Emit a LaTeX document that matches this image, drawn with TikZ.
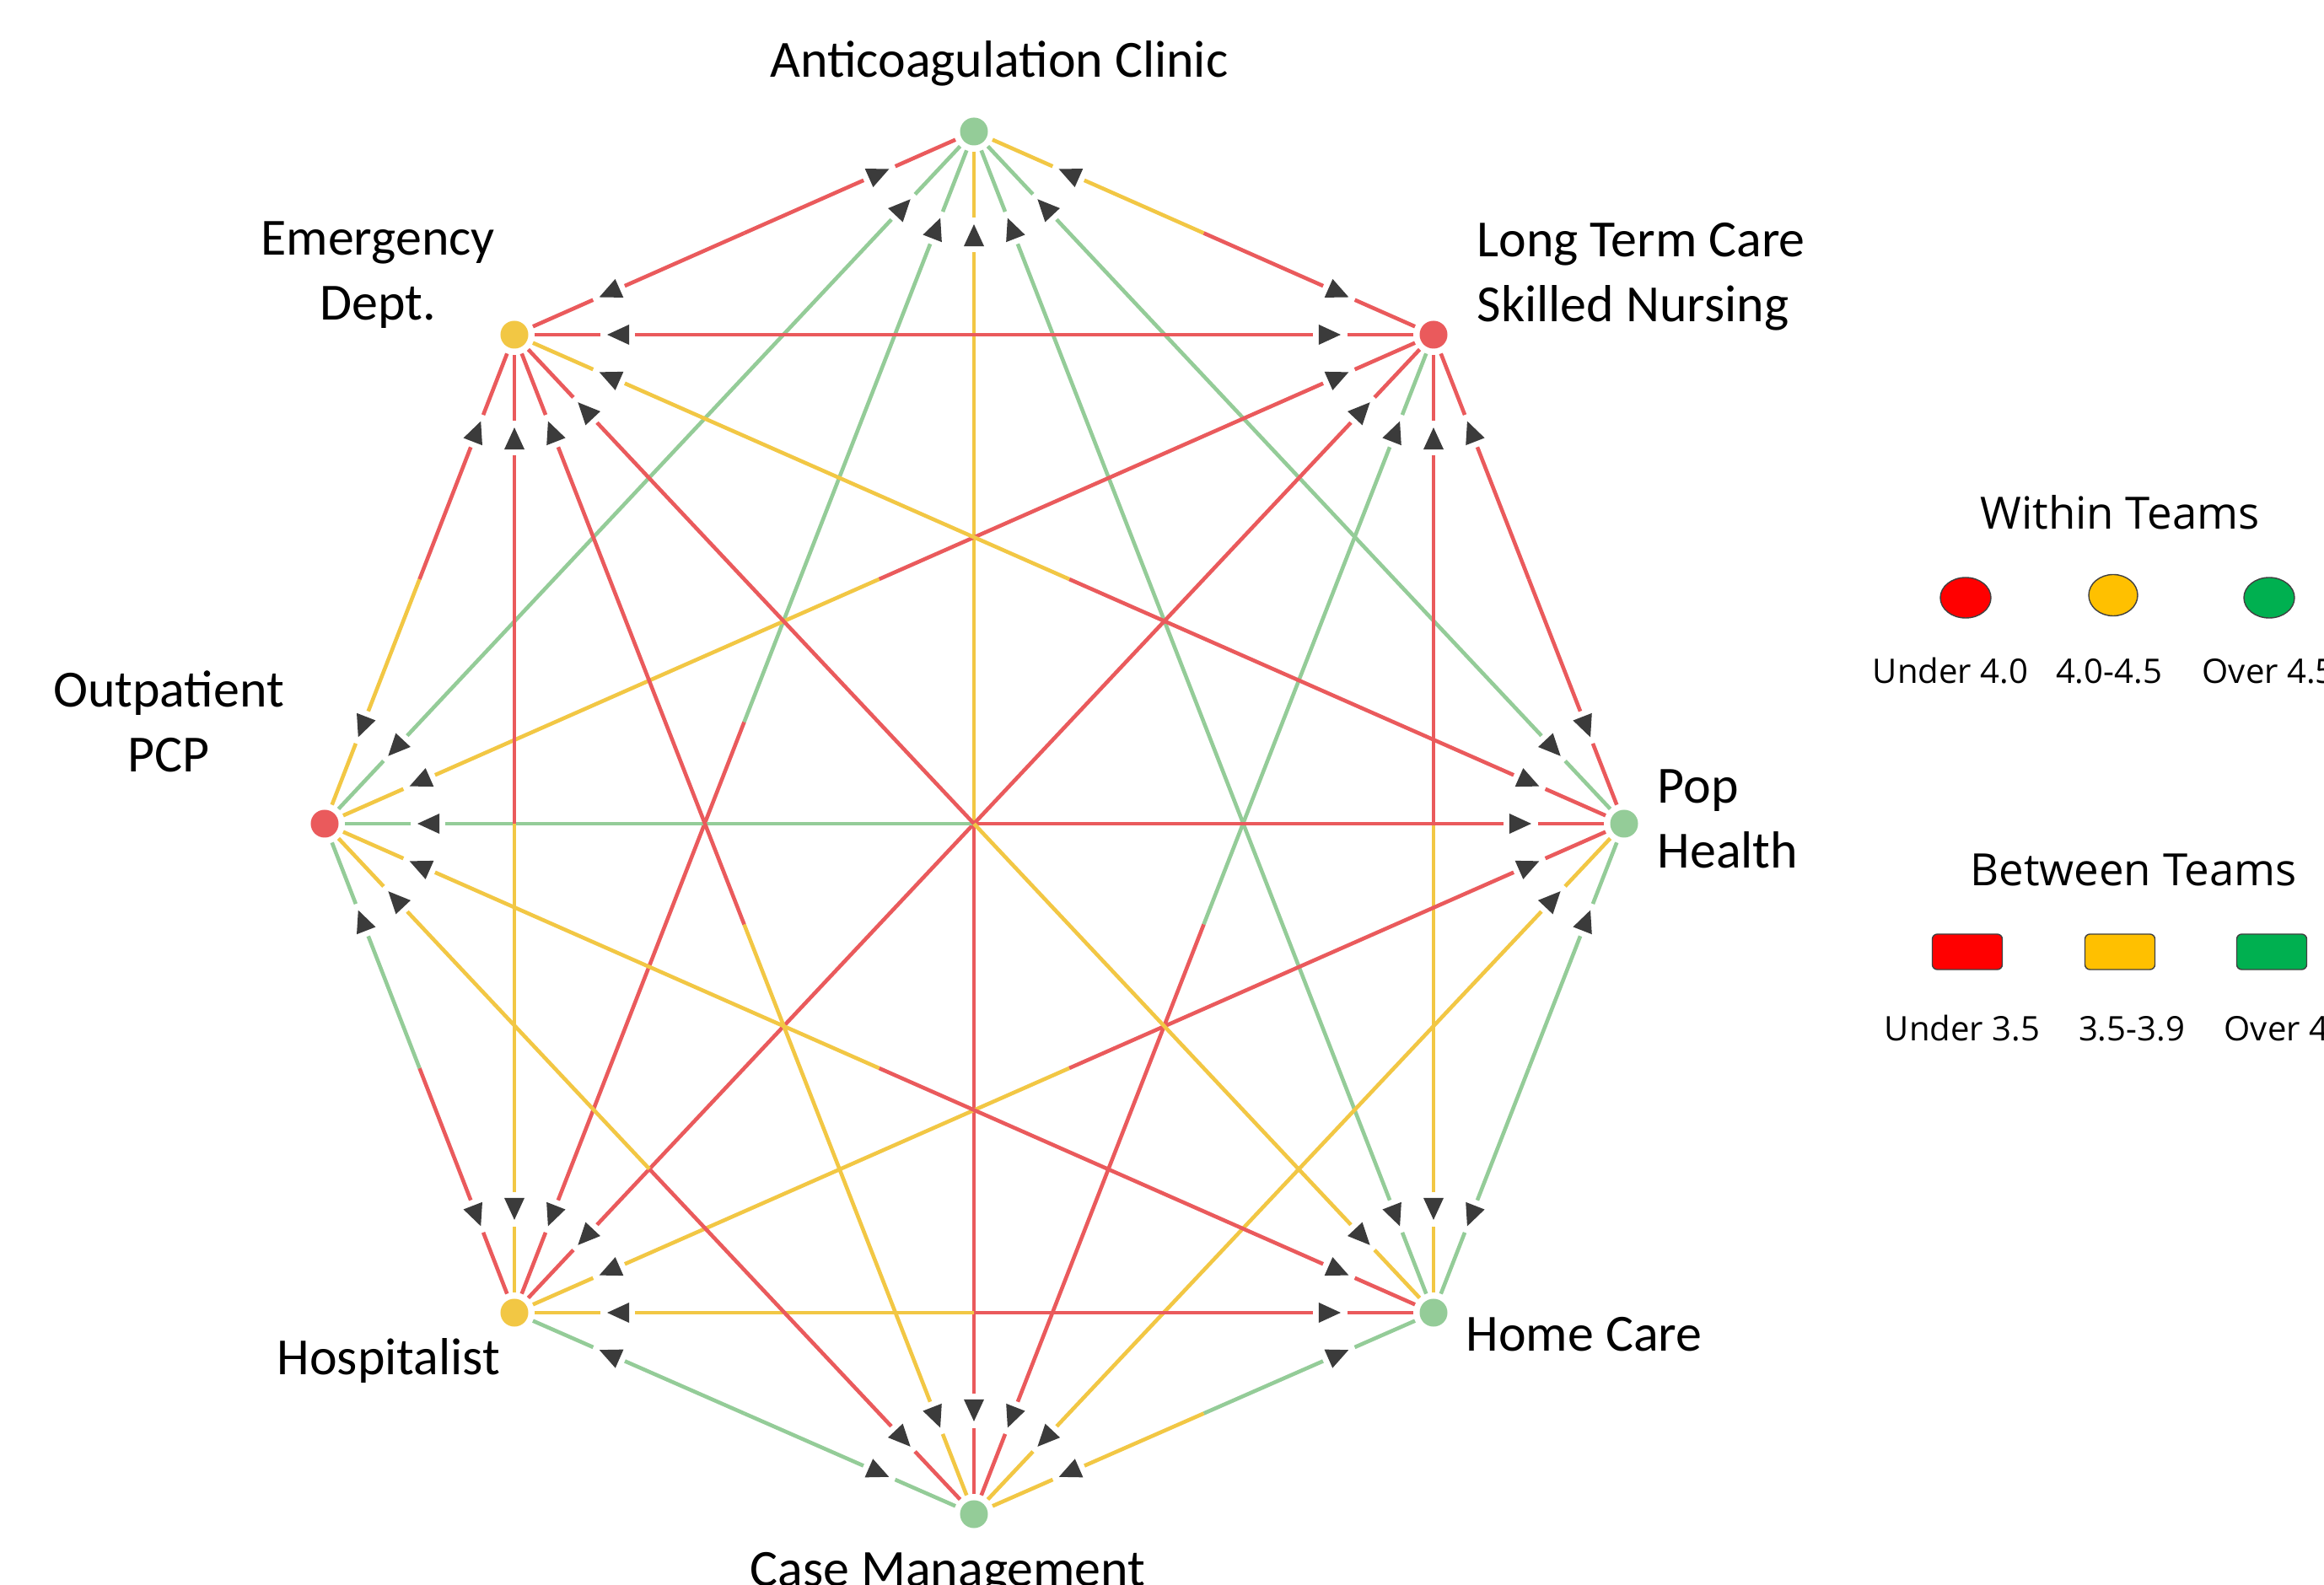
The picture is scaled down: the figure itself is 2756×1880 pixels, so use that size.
\documentclass[tikz,border=0pt]{standalone}
\usepackage{fontspec}
\setmainfont{Carlito}
\newfontfamily\legfont{Open Sans}
\usetikzlibrary{calc,shapes.geometric}
\definecolor{cr}{HTML}{EA5A5C}
\definecolor{cy}{HTML}{F2C744}
\definecolor{cg}{HTML}{94CC98}
\definecolor{ca}{HTML}{3B3B3B}
\definecolor{lr}{HTML}{FF0000}
\definecolor{ly}{HTML}{FFC000}
\definecolor{lg}{HTML}{00B050}
\def\edgelist{A/L/cy/cr, A/P/cg/cg, A/H/cg/cg, A/C/cy/cr, A/Hs/cg/cr, A/O/cg/cg, A/E/cr/cr,
 L/P/cr/cr, L/H/cr/cy, L/C/cg/cr, L/Hs/cr/cr, L/O/cr/cy, L/E/cr/cr,
 P/H/cg/cg, P/C/cy/cy, P/Hs/cr/cy, P/O/cr/cg, P/E/cr/cy,
 H/C/cg/cy, H/Hs/cr/cy, H/O/cr/cy, H/E/cy/cr,
 C/Hs/cg/cg, C/O/cr/cy, C/E/cy/cr,
 Hs/O/cr/cg, Hs/E/cy/cr,
 O/E/cy/cr}
\begin{document}
\begin{tikzpicture}[x=0.01cm,y=-0.01cm,
  dot/.style={circle,inner sep=0pt,minimum size=0.33cm},
  edgeline/.style={line width=1.3pt},
  lbl/.style={font=\fontsize{17.6pt}{21pt}\selectfont,inner sep=0pt},
  legtitle/.style={font=\legfont\fontsize{15pt}{18pt}\selectfont,inner sep=0pt},
  leglbl/.style={font=\legfont\fontsize{11.4pt}{14pt}\selectfont,inner sep=0pt},
  legdot/.style={ellipse,draw=black!75,line width=0.4pt,inner sep=0pt,minimum width=0.60cm,minimum height=0.48cm},
  legbox/.style={rectangle,rounded corners=0.06cm,draw=black!75,line width=0.4pt,inner sep=0pt,minimum width=0.83cm,minimum height=0.42cm}]
\fill[white] (0,0) rectangle (2756,1880);
\useasboundingbox (0,0) rectangle (2756,1880);
% team nodes
\node[dot,fill=cg] (A)  at (1155,156)  {};
\node[dot,fill=cr] (L)  at (1700,397)  {};
\node[dot,fill=cg] (P)  at (1926,977)  {};
\node[dot,fill=cg] (H)  at (1700,1557) {};
\node[dot,fill=cg] (C)  at (1155,1796) {};
\node[dot,fill=cy] (Hs) at (610,1557)  {};
\node[dot,fill=cr] (O)  at (385,977)   {};
\node[dot,fill=cy] (E)  at (610,397)   {};
% connectors
\foreach \u/\v/\cu/\cv in \edgelist {
  \draw[edgeline,draw=\cu] ($(\u)!0.24cm!(\v)$) -- ($(\u)!1.02cm!(\v)$);
  \draw[edgeline,draw=\cu] ($(\u)!1.43cm!(\v)$) -- ($(\u)!0.5!(\v)$);
  \draw[edgeline,draw=\cv] ($(\v)!0.24cm!(\u)$) -- ($(\v)!1.02cm!(\u)$);
  \draw[edgeline,draw=\cv] ($(\v)!1.43cm!(\u)$) -- ($(\v)!0.5!(\u)$);
}
\foreach \u/\v/\cu/\cv in \edgelist {
  \coordinate (b1) at ($(\u)!1.36cm!(\v)$);
  \fill[ca] ($(\u)!1.10cm!(\v)$) -- ($(b1)!0.12cm!90:(\u)$) -- ($(b1)!0.12cm!-90:(\u)$) -- cycle;
  \coordinate (b2) at ($(\v)!1.36cm!(\u)$);
  \fill[ca] ($(\v)!1.10cm!(\u)$) -- ($(b2)!0.12cm!90:(\v)$) -- ($(b2)!0.12cm!-90:(\v)$) -- cycle;
}
% labels
\node[lbl,anchor=base] (tA) at (1185,92) {Anticoagulation Clinic};
\node[lbl,anchor=base] (tE1) at (448,303) {Emergency};
\node[lbl,anchor=base] (tE2) at (448,380) {Dept.};
\node[lbl,anchor=base west] (tL1) at (1751,305) {Long Term Care};
\node[lbl,anchor=base west] (tL2) at (1751,382) {Skilled Nursing};
\node[lbl,anchor=base] (tO1) at (200,839) {Outpatient};
\node[lbl,anchor=base] (tO2) at (200,916) {PCP};
\node[lbl,anchor=base west] (tP1) at (1965,953) {Pop};
\node[lbl,anchor=base west] (tP2) at (1965,1030) {Health};
\node[lbl,anchor=base west] (tH) at (1738,1603) {Home Care};
\node[lbl,anchor=base] (tHs) at (461,1631) {Hospitalist};
\node[lbl,anchor=base] (tC) at (1124,1882) {Case Management};
% legend
\node[legtitle,anchor=base] (wt) at (2514,628) {Within Teams};
\node[legdot,fill=lr] (w1) at (2331,709) {};
\node[legdot,fill=ly,minimum width=0.58cm,minimum height=0.49cm] (w2) at (2506,706) {};
\node[legdot,fill=lg] (w3) at (2691,709) {};
\node[leglbl,anchor=base] (wl1) at (2313,811) {Under 4.0};
\node[leglbl,anchor=base] (wl2) at (2501,811) {4.0-4.5};
\node[leglbl,anchor=base west] (wl3) at (2611,811) {Over 4.5};
\node[legtitle,anchor=base] (bt) at (2530,1051) {Between Teams};
\node[legbox,fill=lr] (b1n) at (2333,1129) {};
\node[legbox,fill=ly] (b2n) at (2514,1129) {};
\node[legbox,fill=lg] (b3n) at (2694,1129) {};
\node[leglbl,anchor=base] (bl1) at (2327,1235) {Under 3.5};
\node[leglbl,anchor=base] (bl2) at (2528,1235) {3.5-3.9};
\node[leglbl,anchor=base west] (bl3) at (2637,1235) {Over 4.0};
\end{tikzpicture}
\end{document}
